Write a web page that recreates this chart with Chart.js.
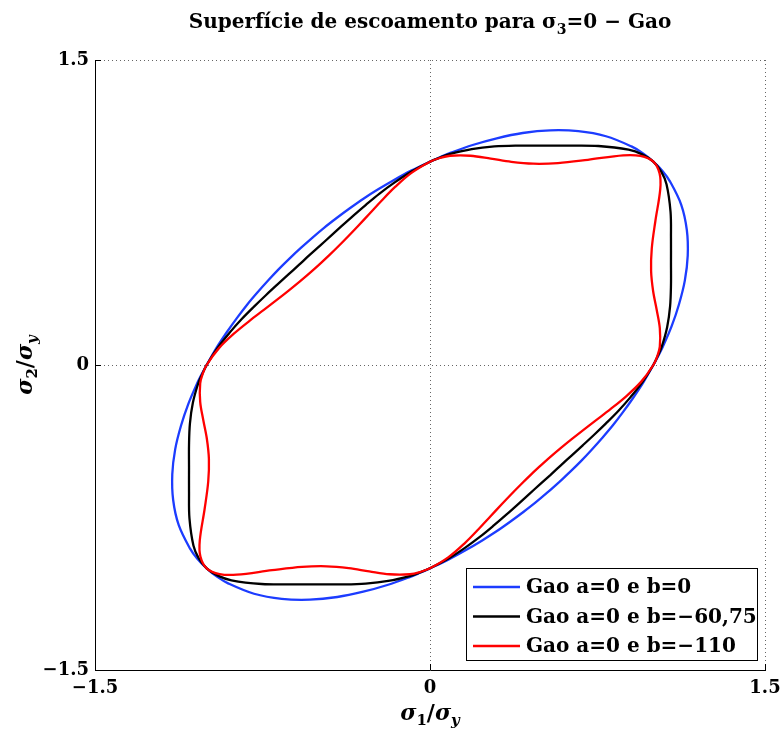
<!DOCTYPE html>
<html>
<head>
<meta charset="utf-8">
<script src="https://cdn.jsdelivr.net/npm/chart.js@4"></script>
<style>
	html, body { margin: 0; padding: 0; background: #fff; }
</style>
</head>
<body>
<canvas id="gaoChart" width="780" height="729"></canvas>
<script>

// yield loci in the sigma1/sigma2 plane, [s1, s2] pairs, counter-clockwise from the lower-right diagonal

var gaoB0 = [
	[0.577, -0.577], [0.627, -0.526], [0.676, -0.473], [0.723, -0.418], [0.771, -0.359],
	[0.818, -0.298], [0.864, -0.232], [0.910, -0.161], [0.956, -0.084], [1.000, 0.000],
	[1.022, 0.045], [1.043, 0.091], [1.082, 0.191], [1.115, 0.299], [1.141, 0.415],
	[1.154, 0.538], [1.150, 0.664], [1.125, 0.788], [1.075, 0.902], [1.041, 0.954],
	[1.000, 1.000], [0.954, 1.041], [0.902, 1.075], [0.788, 1.125], [0.664, 1.150],
	[0.538, 1.154], [0.415, 1.141], [0.299, 1.115], [0.191, 1.082], [0.091, 1.043],
	[0.045, 1.022], [0.000, 1.000], [-0.084, 0.956], [-0.161, 0.910], [-0.232, 0.864],
	[-0.298, 0.818], [-0.359, 0.771], [-0.418, 0.723], [-0.473, 0.676], [-0.526, 0.627],
	[-0.577, 0.577], [-0.627, 0.526], [-0.676, 0.473], [-0.723, 0.418], [-0.771, 0.359],
	[-0.818, 0.298], [-0.864, 0.232], [-0.910, 0.161], [-0.956, 0.084], [-1.000, 0.000],
	[-1.022, -0.045], [-1.043, -0.091], [-1.082, -0.191], [-1.115, -0.299], [-1.141, -0.415],
	[-1.154, -0.538], [-1.150, -0.664], [-1.125, -0.788], [-1.075, -0.902], [-1.041, -0.954],
	[-1.000, -1.000], [-0.954, -1.041], [-0.902, -1.075], [-0.788, -1.125], [-0.664, -1.150],
	[-0.538, -1.154], [-0.415, -1.141], [-0.299, -1.115], [-0.191, -1.082], [-0.091, -1.043],
	[-0.045, -1.022], [0.000, -1.000], [0.084, -0.956], [0.161, -0.910], [0.232, -0.864],
	[0.298, -0.818], [0.359, -0.771], [0.418, -0.723], [0.473, -0.676], [0.526, -0.627],
	[0.577, -0.577]
];

var gaoB60 = [
	[0.540, -0.540], [0.587, -0.492], [0.635, -0.444], [0.684, -0.395], [0.735, -0.343],
	[0.788, -0.287], [0.843, -0.226], [0.898, -0.158], [0.952, -0.083], [1.000, 0.000],
	[1.020, 0.045], [1.038, 0.091], [1.062, 0.187], [1.075, 0.288], [1.079, 0.393],
	[1.079, 0.503], [1.079, 0.623], [1.077, 0.754], [1.059, 0.889], [1.036, 0.950],
	[1.000, 1.000], [0.950, 1.036], [0.889, 1.059], [0.754, 1.077], [0.623, 1.079],
	[0.503, 1.079], [0.393, 1.079], [0.288, 1.075], [0.187, 1.062], [0.091, 1.038],
	[0.045, 1.020], [0.000, 1.000], [-0.083, 0.952], [-0.158, 0.898], [-0.226, 0.843],
	[-0.287, 0.788], [-0.343, 0.735], [-0.395, 0.684], [-0.444, 0.635], [-0.492, 0.587],
	[-0.540, 0.540], [-0.587, 0.492], [-0.635, 0.444], [-0.684, 0.395], [-0.735, 0.343],
	[-0.788, 0.287], [-0.843, 0.226], [-0.898, 0.158], [-0.952, 0.083], [-1.000, 0.000],
	[-1.020, -0.045], [-1.038, -0.091], [-1.062, -0.187], [-1.075, -0.288], [-1.079, -0.393],
	[-1.079, -0.503], [-1.079, -0.623], [-1.077, -0.754], [-1.059, -0.889], [-1.036, -0.950],
	[-1.000, -1.000], [-0.950, -1.036], [-0.889, -1.059], [-0.754, -1.077], [-0.623, -1.079],
	[-0.503, -1.079], [-0.393, -1.079], [-0.288, -1.075], [-0.187, -1.062], [-0.091, -1.038],
	[-0.045, -1.020], [0.000, -1.000], [0.083, -0.952], [0.158, -0.898], [0.226, -0.843],
	[0.287, -0.788], [0.343, -0.735], [0.395, -0.684], [0.444, -0.635], [0.492, -0.587],
	[0.540, -0.540]
];

var gaoB110 = [
	[0.495, -0.495], [0.539, -0.452], [0.585, -0.409], [0.633, -0.366], [0.686, -0.320],
	[0.744, -0.271], [0.808, -0.217], [0.877, -0.155], [0.945, -0.083], [1.000, 0.000],
	[1.018, 0.044], [1.029, 0.090], [1.029, 0.181], [1.015, 0.272], [0.999, 0.364],
	[0.990, 0.462], [0.993, 0.573], [1.009, 0.707], [1.031, 0.865], [1.028, 0.942],
	[1.000, 1.000], [0.942, 1.028], [0.865, 1.031], [0.707, 1.009], [0.573, 0.993],
	[0.462, 0.990], [0.364, 0.999], [0.272, 1.015], [0.181, 1.029], [0.090, 1.029],
	[0.044, 1.018], [0.000, 1.000], [-0.083, 0.945], [-0.155, 0.877], [-0.217, 0.808],
	[-0.271, 0.744], [-0.320, 0.686], [-0.366, 0.633], [-0.409, 0.585], [-0.452, 0.539],
	[-0.495, 0.495], [-0.539, 0.452], [-0.585, 0.409], [-0.633, 0.366], [-0.686, 0.320],
	[-0.744, 0.271], [-0.808, 0.217], [-0.877, 0.155], [-0.945, 0.083], [-1.000, 0.000],
	[-1.018, -0.044], [-1.029, -0.090], [-1.029, -0.181], [-1.015, -0.272], [-0.999, -0.364],
	[-0.990, -0.462], [-0.993, -0.573], [-1.009, -0.707], [-1.031, -0.865], [-1.028, -0.942],
	[-1.000, -1.000], [-0.942, -1.028], [-0.865, -1.031], [-0.707, -1.009], [-0.573, -0.993],
	[-0.462, -0.990], [-0.364, -0.999], [-0.272, -1.015], [-0.181, -1.029], [-0.090, -1.029],
	[-0.044, -1.018], [0.000, -1.000], [0.083, -0.945], [0.155, -0.877], [0.217, -0.808],
	[0.271, -0.744], [0.320, -0.686], [0.366, -0.633], [0.409, -0.585], [0.452, -0.539],
	[0.495, -0.495]
];

var seriesNames = ['Gao a=0 e b=0', 'Gao a=0 e b=\u221260,75', 'Gao a=0 e b=\u2212110'];
var tickVals = [-1.5, 0, 1.5];

var lineColors = ['#1c3cff', '#000000', '#ff0000'];
var serif = 'DejaVu Serif';

function toPoints(pairs) {
	return pairs.map(function (p) { return {x: p[0], y: p[1]}; });
}

function fmtTick(v) {
	if (v === 0) return '0';
	return (v < 0 ? '\u2212' : '') + Math.abs(v).toFixed(1);
}

// text with sub/superscript runs: [text, font, dy]
function drawRich(ctx, parts, x, y) {
	var w = 0;
	parts.forEach(function (p) { ctx.font = p[1]; w += ctx.measureText(p[0]).width; });
	var cx = x - w / 2;
	parts.forEach(function (p) {
		ctx.font = p[1];
		ctx.fillText(p[0], cx, y + (p[2] || 0));
		cx += ctx.measureText(p[0]).width;
	});
}

var decor = {
	id: 'decor',
	afterDraw: function (chart) {
		var ctx = chart.ctx;
		var xs = chart.scales.x, ys = chart.scales.y;
		var area = chart.chartArea;
		ctx.save();

		// ticks pointing into the axes
		ctx.strokeStyle = '#000';
		ctx.lineWidth = 1;
		ctx.beginPath();
		tickVals.forEach(function (v) {
			var px = Math.round(xs.getPixelForValue(v)) + 0.5;
			ctx.moveTo(px, area.bottom);
			ctx.lineTo(px, area.bottom - 6);
			var py = Math.round(ys.getPixelForValue(v)) + 0.5;
			ctx.moveTo(area.left, py);
			ctx.lineTo(area.left + 6, py);
		});
		ctx.stroke();

		ctx.fillStyle = '#000';
		ctx.textBaseline = 'alphabetic';

		// title
		drawRich(ctx, [
			['Superf\u00edcie de escoamento para \u03c3', 'bold 20px ' + serif],
			['3', 'bold 14px ' + serif, 6],
			['=0 \u2212 Gao', 'bold 20px ' + serif]
		], (area.left + area.right) / 2, 28);

		// x axis title
		drawRich(ctx, [
			['\u03c3', 'italic bold 22px ' + serif],
			['1', 'bold 15px ' + serif, 5],
			['/', 'bold 22px ' + serif],
			['\u03c3', 'italic bold 22px ' + serif],
			['y', 'italic bold 15px ' + serif, 5]
		], (area.left + area.right) / 2, 720);

		// y axis title
		ctx.save();
		ctx.translate(32, (area.top + area.bottom) / 2);
		ctx.rotate(-Math.PI / 2);
		drawRich(ctx, [
			['\u03c3', 'italic bold 22px ' + serif],
			['2', 'bold 15px ' + serif, 5],
			['/', 'bold 22px ' + serif],
			['\u03c3', 'italic bold 22px ' + serif],
			['y', 'italic bold 15px ' + serif, 5]
		], 0, 0);
		ctx.restore();

		// legend box, lower right
		var bx = 466.5, by = 568.5, bw = 291, bh = 92;
		ctx.fillStyle = '#fff';
		ctx.fillRect(bx, by, bw, bh);
		ctx.strokeStyle = '#000';
		ctx.lineWidth = 1;
		ctx.strokeRect(bx, by, bw, bh);
		ctx.textBaseline = 'middle';
		ctx.font = 'bold 20px ' + serif;
		seriesNames.forEach(function (name, i) {
			var ry = 587 + i * 29.5;
			ctx.strokeStyle = lineColors[i];
			ctx.lineWidth = 2.5;
			ctx.beginPath();
			ctx.moveTo(473, ry);
			ctx.lineTo(520, ry);
			ctx.stroke();
			ctx.fillStyle = '#000';
			ctx.fillText(name, 526, ry + 1);
		});
		ctx.restore();
	}
};

function axisOpts() {
	return {
		type: 'linear',
		min: -1.5,
		max: 1.5,
		afterBuildTicks: function (s) { s.ticks = tickVals.map(function (v) { return {value: v}; }); },
		grid: { color: 'rgba(0,0,0,0.6)', lineWidth: 1, drawTicks: false },
		border: { display: true, color: '#000', width: 1, dash: [1, 3] },
		ticks: {
			color: '#000',
			font: { family: serif, weight: 'bold', size: 18 },
			callback: function (v) { return fmtTick(v); }
		}
	};
}

// fixed axis sizes so the plot box sits at 95..765 x 60..670
var xAxis = axisOpts();
xAxis.afterFit = function (s) {
	s.height = 59;
	s.paddingLeft = 0;
	s.paddingRight = 0;
};
xAxis.ticks.padding = 8;
xAxis.ticks.maxRotation = 0;
var yAxis = axisOpts();
yAxis.afterFit = function (s) {
	s.width = 95;
	s.paddingTop = 0;
	s.paddingBottom = 0;
};
yAxis.ticks.padding = 6;

new Chart('gaoChart', {
	type: 'scatter',
	data: {
		datasets: [gaoB0, gaoB60, gaoB110].map(function (curve, i) {
			return {
				label: seriesNames[i],
				data: toPoints(curve),
				showLine: true,
				borderColor: lineColors[i],
				backgroundColor: lineColors[i],
				borderWidth: 2.3,
				pointRadius: 0,
				tension: 0.35,
				order: 3 - i
			};
		})
	},
	options: {
		responsive: false,
		animation: false,
		devicePixelRatio: 1,
		layout: { padding: { left: 0, right: 15, top: 60, bottom: 0 } },
		plugins: {
			legend: { display: false },
			title: { display: false },
			tooltip: { enabled: false }
		},
		scales: { x: xAxis, y: yAxis }
	},
	plugins: [decor]
});
</script>
</body>
</html>
